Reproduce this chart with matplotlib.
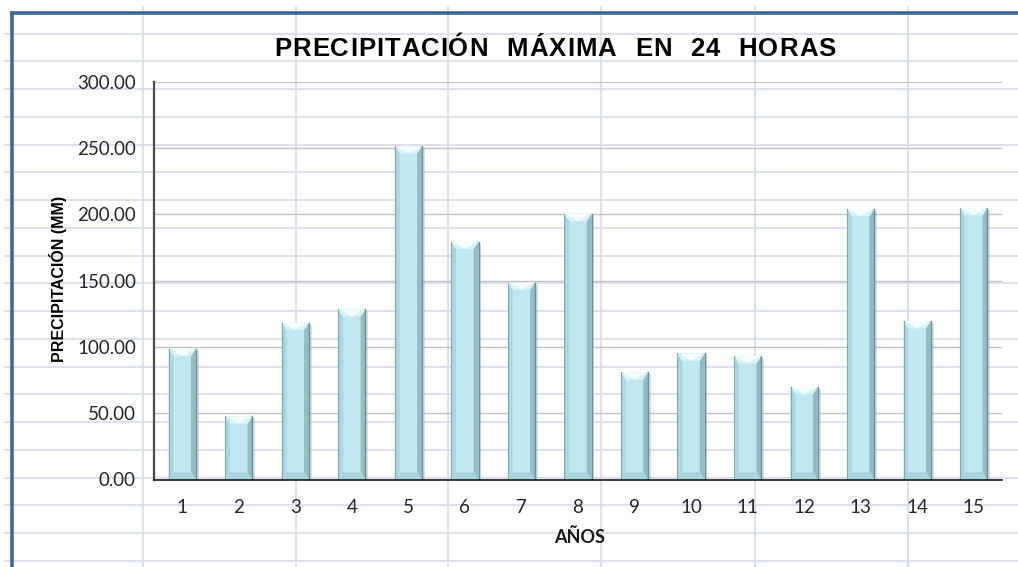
import matplotlib
matplotlib.use("Agg")
import matplotlib.pyplot as plt
from matplotlib.patches import Rectangle, Polygon

years = list(range(1, 16))
precip = [98.6, 47.6, 118.3, 128.4, 251.5, 179.4, 148.6, 200.4,
          80.9, 95.1, 93.0, 69.8, 204.2, 119.5, 204.9]
yticks = [0, 50, 100, 150, 200, 250, 300]
title = "PRECIPITACIÓN  MÁXIMA  EN  24  HORAS"

W, H = 1018, 567
fig = plt.figure(figsize=(W / 100, H / 100), dpi=100)

# worksheet cells behind the chart (pixel coordinates)
bg = fig.add_axes([0, 0, 1, 1], zorder=0)
bg.set_xlim(0, W)
bg.set_ylim(H, 0)
bg.axis("off")
cell_col = "#d6dcea"
y = 33.5
while y < H:
    bg.plot([5, W], [y, y], color=cell_col, lw=1.2)
    y += 27.75
for x in [143, 296, 448, 601, 755, 908]:
    bg.plot([x, x], [7, H], color=cell_col, lw=1.2)
# frame of the embedded chart
bg.plot([12, W], [13, 13], color="#41679a", lw=2.6, solid_capstyle="projecting")
bg.plot([12, 12], [13, H], color="#41679a", lw=2.6, solid_capstyle="projecting")

ax = fig.add_axes([154 / W, 87.5 / H, 848 / W, 397.5 / H], zorder=2)
ax.patch.set_alpha(0)
ax.set_xlim(0.5, 15.5)
ax.set_ylim(0, 300)

for v in yticks[1:]:
    ax.axhline(v, color="#c2c2c2", lw=1.0, zorder=1)


def bevel_bar(ax, xc, h, w=0.48):
    x0, x1 = xc - w / 2, xc + w / 2
    bx, by = 0.085, 5.5
    # soft drop shadow
    ax.add_patch(Rectangle((x0 + 0.05, -1.5), w, h, color="#9aa6a9", alpha=0.35,
                           lw=0, zorder=2))
    ax.add_patch(Rectangle((x0, 0), w, h, color="#bfe8f1", lw=0, zorder=3))
    faces = [
        ([(x0, h), (x0, 0), (x0 + bx, by), (x0 + bx, h - by)], "#a9d8e2"),
        ([(x1, h), (x1, 0), (x1 - bx, by), (x1 - bx, h - by)], "#93bcc5"),
        ([(x0, 0), (x1, 0), (x1 - bx, by), (x0 + bx, by)], "#a9d5de"),
        ([(x0, h), (x1, h), (x1 - bx, h - by), (x0 + bx, h - by)], "#d9f4f9"),
        ([(x0 + 0.03, h), (x1 - 0.03, h), (xc, h - by)], "#f7feff"),
    ]
    for pts, c in faces:
        ax.add_patch(Polygon(pts, closed=True, color=c, lw=0, zorder=4))
    ax.plot([x0, x0], [0, h], color="#7fa8b1", lw=0.8, zorder=5)
    ax.plot([x1, x1], [0, h], color="#6d8f96", lw=1.0, zorder=5)


for xc, v in zip(years, precip):
    bevel_bar(ax, xc, v)

for s in ["top", "right"]:
    ax.spines[s].set_visible(False)
ax.spines["left"].set_color("#4a4a4a")
ax.spines["left"].set_linewidth(1.6)
ax.spines["bottom"].set_color("#1a1a1a")
ax.spines["bottom"].set_linewidth(1.2)
ax.spines["left"].set_zorder(6)
ax.spines["bottom"].set_zorder(6)

ax.set_xticks(years)
ax.set_xticklabels([str(y) for y in years])
ax.set_yticks(yticks)
ax.set_yticklabels([f"{v:.2f}" for v in yticks])
ax.tick_params(length=0, labelsize=13.5, labelcolor="#262626")
ax.tick_params(axis="x", pad=14)
ax.tick_params(axis="y", pad=13)
for lab in ax.get_xticklabels() + ax.get_yticklabels():
    lab.set_family("Lato")

# title with extra letter spacing, laid out char by char
renderer = fig.canvas.get_renderer()
tkw = dict(fontsize=18.5, fontweight="bold", family="Liberation Sans", color="black")
track = 1.0
widths = []
for ch in title:
    t = fig.text(0, 0, ch if ch != " " else "n", **tkw)
    wpx = t.get_window_extent(renderer).width
    t.remove()
    widths.append(wpx * (0.5 if ch == " " else 1.0))
total = sum(widths) + track * (len(title) - 1)
xpos = 555 - total / 2
for ch, wpx in zip(title, widths):
    if ch != " ":
        fig.text(xpos / W, 1 - 49 / H, ch, ha="left", va="center", **tkw)
    xpos += wpx + track

fig.text(58 / W, 1 - 279 / H, "PRECIPITACIÓN (MM)", rotation=90,
         ha="center", va="center", fontsize=11.5, fontweight="bold",
         family=["Liberation Sans Narrow", "Liberation Sans"], color="black")
fig.text(580 / W, 1 - 537 / H, "AÑOS", ha="center", va="center",
         fontsize=13, fontweight="bold", family="Lato", color="#1a1a1a")

fig.savefig("out.png", dpi=100)
